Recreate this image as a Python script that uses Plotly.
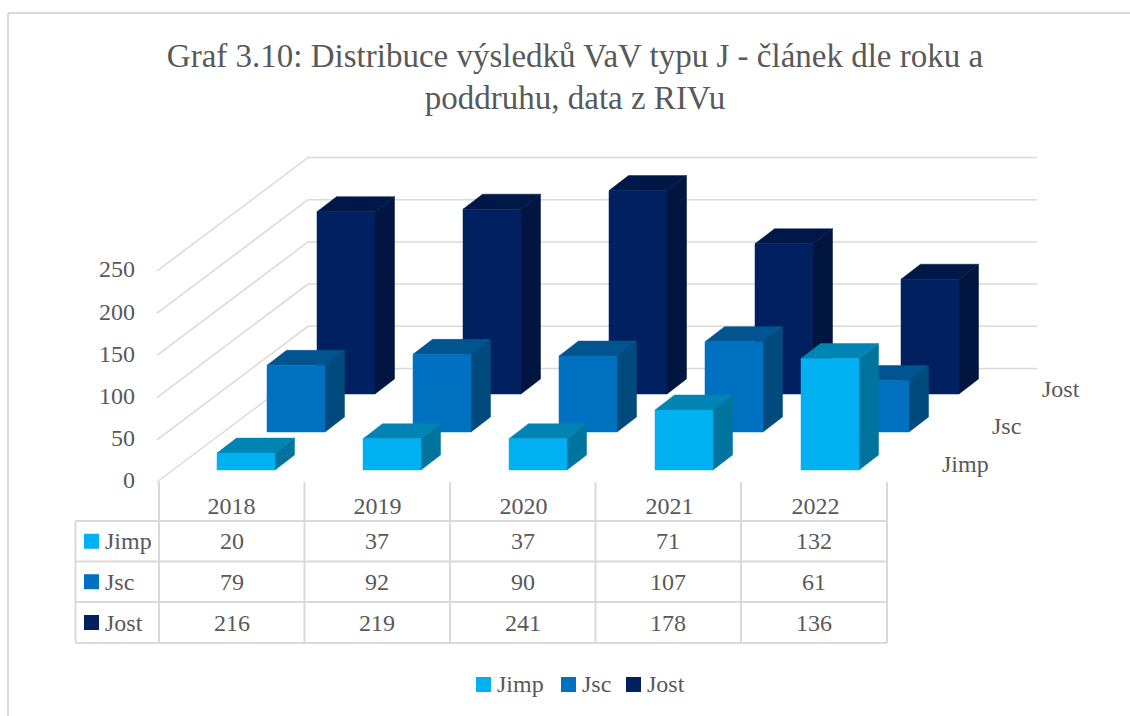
import plotly.graph_objects as go

# ---- data ----
years = ["2018", "2019", "2020", "2021", "2022"]
series = ["Jimp", "Jsc", "Jost"]
jimp = [20, 37, 37, 71, 132]
jsc = [79, 92, 90, 107, 61]
jost = [216, 219, 241, 178, 136]
ticks = [0, 50, 100, 150, 200, 250]
TITLE = "Graf 3.10: Distribuce výsledků VaV typu J - článek dle roku a<br>poddruhu, data z RIVu"

# ---- styling ----
W, H = 1130, 716
FONT = "Liberation Serif"
TXT = "#595959"
GRID = "#d9d9d9"
front = ["#00B0F0", "#0070C0", "#002060"]
top = ["#0084B4", "#005490", "#001848"]
side = ["#00749E", "#004A7E", "#00153F"]
values = [jimp, jsc, jost]

# ---- oblique projection, expressed in axis units ----
PX_PER_YEAR = 146.0      # one category step
PX_PER_UNIT = 0.844      # one value unit
ORIGIN_X, ORIGIN_Y = 231.5, 482.0   # pixel of (category 0, value 0)
def ux(px): return px / PX_PER_YEAR
def uy(px): return px / PX_PER_UNIT

BAR_W = ux(58)
BAR_OFF = ux(217 - ORIGIN_X)
BAR_BASE = uy(ORIGIN_Y - 470)
SER_DX, SER_DY = ux(50), uy(38)      # shift from one series to the next
BAR_DX, BAR_DY = ux(19.5), uy(15)    # depth of one bar
WALL_X = ux(157 - ORIGIN_X)
WALL_DX, WALL_DY = ux(151), uy(113.5)
WALL_END = ux(1037 - ORIGIN_X)

def paper_x(px): return px / W
def paper_y(py): return 1 - py / H

fig = go.Figure()

# gridlines on the side and back walls
gx, gy = [], []
for v in ticks:
    gx += [WALL_X, WALL_X + WALL_DX, WALL_END, None]
    gy += [v, v + WALL_DY, v + WALL_DY, None]
fig.add_trace(go.Scatter(x=gx, y=gy, mode="lines", line=dict(color=GRID, width=1.5),
                         hoverinfo="skip", showlegend=False))

def poly(store, pts):
    store[0].extend([p[0] for p in pts] + [pts[0][0], None])
    store[1].extend([p[1] for p in pts] + [pts[0][1], None])

# bars, from the back series to the front series
for s in [2, 1, 0]:
    f, t, r = ([], []), ([], []), ([], [])
    for i, v in enumerate(values[s]):
        x0 = i + BAR_OFF + s * SER_DX
        x1 = x0 + BAR_W
        y0 = BAR_BASE + s * SER_DY
        y1 = y0 + v
        poly(f, [(x0, y0), (x1, y0), (x1, y1), (x0, y1)])
        poly(t, [(x0, y1), (x1, y1), (x1 + BAR_DX, y1 + BAR_DY), (x0 + BAR_DX, y1 + BAR_DY)])
        poly(r, [(x1, y0), (x1 + BAR_DX, y0 + BAR_DY), (x1 + BAR_DX, y1 + BAR_DY), (x1, y1)])
    for store, col, part in ((r, side[s], "side"), (t, top[s], "top"), (f, front[s], "front")):
        fig.add_trace(go.Scatter(x=store[0], y=store[1], mode="lines", fill="toself",
                                 fillcolor=col, line=dict(color=col, width=0.5),
                                 name=f"{series[s]} {part}", hoverinfo="skip", showlegend=False))

annotations = []
def label(px, py, text, anchor="center", size=24):
    annotations.append(dict(x=paper_x(px), y=paper_y(py), xref="paper", yref="paper",
                            text=text, showarrow=False, xanchor=anchor, yanchor="middle",
                            xshift=0, yshift=0, borderpad=0, borderwidth=0,
                            font=dict(family=FONT, size=size, color=TXT)))

shapes = []
def line(x0, y0, x1, y1, width=2):
    shapes.append(dict(type="line", xref="paper", yref="paper",
                       x0=paper_x(x0), y0=paper_y(y0), x1=paper_x(x1), y1=paper_y(y1),
                       line=dict(color=GRID, width=width)))
def square(x0, y0, size, col):
    shapes.append(dict(type="rect", xref="paper", yref="paper",
                       x0=paper_x(x0), y0=paper_y(y0), x1=paper_x(x0 + size), y1=paper_y(y0 + size),
                       fillcolor=col, line=dict(width=0)))

# outer frame of the chart
line(8, 13, 8, 716)
line(8, 13, 1130, 13)

# series names on the depth axis
for s, name in enumerate(series):
    label(942 + 50 * s, 463.5 - 37.5 * s, name, "left")

# data table
COL_EDGES = [159, 304.5, 450, 595.5, 741, 887]
ROW_EDGES = [521, 561.5, 602, 643]
TABLE_L = 75.5
for x in COL_EDGES:
    line(x, 482, x, ROW_EDGES[-1])
line(TABLE_L, ROW_EDGES[0], TABLE_L, ROW_EDGES[-1])
for y in ROW_EDGES:
    line(TABLE_L, y, COL_EDGES[-1], y)
for s, name in enumerate(series):
    yc = (ROW_EDGES[s] + ROW_EDGES[s + 1]) / 2
    square(84, yc - 7.5, 15, front[s])
    label(105, yc, name, "left")
    for i, v in enumerate(values[s]):
        label((COL_EDGES[i] + COL_EDGES[i + 1]) / 2, yc, str(v))

# legend
LEG_SWATCH = [476, 561, 626]
for s, name in enumerate(series):
    square(LEG_SWATCH[s], 677, 15, front[s])
    label(LEG_SWATCH[s] + 21, 684, name, "left")

fig.update_layout(
    width=W, height=H, margin=dict(l=0, r=0, t=0, b=0),
    paper_bgcolor="white", plot_bgcolor="white", showlegend=False,
    font=dict(family=FONT, size=24, color=TXT),
    title=dict(text=TITLE, font=dict(family=FONT, size=33, color=TXT),
               x=575 / W, xanchor="center", y=1 - 66.5 / H, yanchor="middle"),
    xaxis=dict(domain=[0, 1], range=[ux(-ORIGIN_X), ux(W - ORIGIN_X)], anchor="free",
               position=paper_y(ORIGIN_Y), tickmode="array", tickvals=list(range(len(years))),
               ticktext=years, showgrid=False, zeroline=False, showline=False, ticks="",
               ticklabelstandoff=7, tickfont=dict(family=FONT, size=24, color=TXT)),
    yaxis=dict(domain=[0, 1], range=[uy(ORIGIN_Y - H), uy(ORIGIN_Y)], anchor="free",
               position=paper_x(157), tickmode="array", tickvals=ticks,
               showgrid=False, zeroline=False, showline=False, ticks="",
               ticklabelstandoff=22, ticklabelshift=-2,
               tickfont=dict(family=FONT, size=24, color=TXT)),
    annotations=annotations, shapes=shapes,
)
fig.write_html("out.html", config=dict(displayModeBar=False),
               post_script="document.body.style.margin='0';")
